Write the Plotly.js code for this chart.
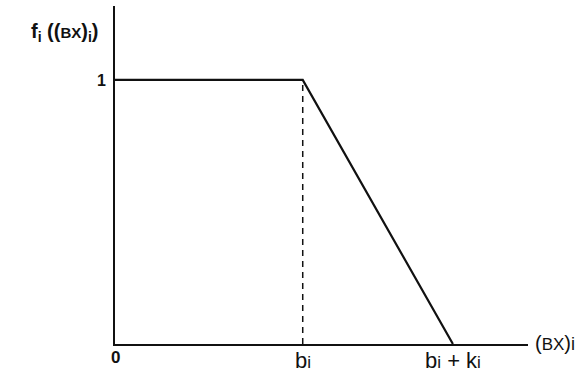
<!DOCTYPE html>
<html>
<head>
<meta charset="utf-8">
<script src="https://cdn.plot.ly/plotly-3.0.1.min.js"></script>
<style>
  html, body { margin: 0; padding: 0; background: #ffffff; }
  #chart { width: 586px; height: 374px; }
</style>
</head>
<body>
<div id="chart"></div>
<script>
// Membership function f_i((BX)_i): equal to 1 up to b_i, then falling linearly to 0 at b_i + k_i
const b = 1.25;          // aspiration level b_i
const k = 1.0;           // tolerance k_i
const curveX = [0, b, b + k];
const curveY = [1, 1, 0];
const guideX = [b, b];
const guideY = [0, 1];

// Labels placed along the horizontal axis
const idx = '<span style="font-size:17px">i</span>';
const tickPositions = [0, b, b + k];
const tickLabels = ['<b>0</b>', 'b' + idx, 'b' + idx + ' + k' + idx];
const tickSizes = [17, 22, 22];

const font = 'Liberation Sans, Arial, sans-serif';

const traces = [
  {
    x: curveX, y: curveY, type: 'scatter', mode: 'lines',
    line: { color: '#111', width: 2.2 }, hoverinfo: 'skip'
  },
  {
    x: guideX, y: guideY, type: 'scatter', mode: 'lines',
    line: { color: '#111', width: 1.5, dash: '6px,5px' }, hoverinfo: 'skip'
  }
];

const annotations = tickPositions.map((v, i) => ({
  x: v, y: 0, xref: 'x', yref: 'y',
  text: tickLabels[i],
  showarrow: false, xanchor: 'center', yanchor: 'top', yshift: -2,
  font: { family: font, size: tickSizes[i], color: '#111' }
}));

annotations.push({
  x: 1, y: 0, xref: 'paper', yref: 'y',
  text: '(<span style="font-size:17px">BX</span>)<span style="font-size:18px">i</span>',
  showarrow: false, xanchor: 'left', yanchor: 'middle', xshift: 5, yshift: 1,
  font: { family: font, size: 20, color: '#111' }
});

annotations.push({
  x: 0, y: 1.18, xref: 'paper', yref: 'y',
  text: '<b>f<sub>i</sub> ((<span style="font-size:15px">BX</span>)<sub>i</sub>)</b>',
  showarrow: false, xanchor: 'right', yanchor: 'middle', xshift: -14,
  font: { family: font, size: 20, color: '#111' }
});

const layout = {
  width: 586, height: 374,
  margin: { l: 115, r: 58, t: 6, b: 30 },
  paper_bgcolor: '#ffffff', plot_bgcolor: '#ffffff',
  showlegend: false,
  xaxis: {
    range: [0, 2.75], showgrid: false, zeroline: false,
    showline: true, linecolor: '#111', linewidth: 2,
    showticklabels: false, ticks: '', fixedrange: true
  },
  yaxis: {
    range: [0, 1.28], showgrid: false, zeroline: false,
    showline: true, linecolor: '#111', linewidth: 2,
    tickvals: [1], ticktext: ['<b>1</b>'], ticks: '', ticklabelstandoff: 4,
    tickfont: { family: font, size: 16, color: '#111' },
    fixedrange: true
  },
  annotations: annotations
};

Plotly.newPlot('chart', traces, layout, { displayModeBar: false, staticPlot: true });
</script>
</body>
</html>
